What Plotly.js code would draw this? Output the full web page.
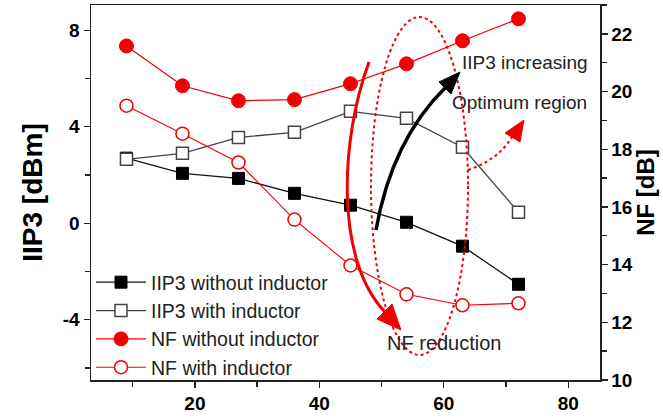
<!DOCTYPE html>
<html>
<head>
<meta charset="utf-8">
<script src="https://cdn.plot.ly/plotly-3.0.1.min.js"></script>
<style>html,body{margin:0;padding:0;background:#fff;}#chart{width:663px;height:419px;}</style>
</head>
<body>
<div id="chart"></div>
<script>
// ---- data ----
var xValues = [9, 18, 27, 36, 45, 54, 63, 72];
var iip3Without = [2.7, 2.07, 1.86, 1.24, 0.75, 0.04, -0.95, -2.53];
var iip3With = [2.65, 2.90, 3.56, 3.77, 4.64, 4.35, 3.15, 0.46];
var nfWithout = [21.58, 20.20, 19.68, 19.72, 20.27, 20.96, 21.76, 22.52];
var nfWith = [19.51, 18.54, 17.54, 15.56, 13.97, 12.97, 12.59, 12.66];
var seriesNames = ["IIP3 without inductor", "IIP3 with inductor", "NF without inductor", "NF with inductor"];
var leftTickVals = [-4, 0, 4, 8];
var leftTickText = ["-4", "0", "4", "8"];

// ---- layout geometry ----
var W = 663, H = 419;
var M = {l: 91, r: 63, t: 5, b: 39};
var PW = W - M.l - M.r, PH = H - M.t - M.b;
function px(x) { return ((x - M.l) / PW).toFixed(4); }
function py(y) { return ((H - M.b - y) / PH).toFixed(4); }
function P(x, y) { return px(x) + "," + py(y); }

var RED = "rgb(240,0,0)";
var font = "Arial, 'Liberation Sans', Helvetica, sans-serif";

var traces = [
  {x: xValues, y: iip3Without, name: seriesNames[0], type: "scatter", mode: "lines+markers",
   line: {color: "#111", width: 1.3},
   marker: {symbol: "square", size: 12, color: "#000", line: {color: "#000", width: 1}}},
  {x: xValues, y: iip3With, name: seriesNames[1], type: "scatter", mode: "lines+markers",
   line: {color: "#444", width: 1.3},
   marker: {symbol: "square", size: 12, color: "#fff", line: {color: "#444", width: 1.5}}},
  {x: xValues, y: nfWithout, name: seriesNames[2], type: "scatter", mode: "lines+markers", yaxis: "y2",
   line: {color: RED, width: 1.3},
   marker: {symbol: "circle", size: 14, color: RED, line: {color: RED, width: 1}}},
  {x: xValues, y: nfWith, name: seriesNames[3], type: "scatter", mode: "lines+markers", yaxis: "y2",
   line: {color: RED, width: 1.1},
   marker: {symbol: "circle", size: 13, color: "#fff", line: {color: RED, width: 1.5}}}
];

var shapes = [
  // dotted ellipse (optimum region)
  {type: "circle", xref: "paper", yref: "paper", x0: px(371), x1: px(468), y0: py(355), y1: py(17),
   line: {color: RED, width: 2, dash: "dot"}, layer: "above"},
  // black arrow (IIP3 increasing)
  {type: "path", xref: "paper", yref: "paper", path: "M" + P(376, 230) + " Q" + P(392, 140) + " " + P(445, 88),
   line: {color: "#000", width: 3.5}},
  {type: "path", xref: "paper", yref: "paper", path: "M" + P(460, 72) + " L" + P(451, 94) + " L" + P(439, 82) + " Z",
   fillcolor: "#000", line: {color: "#000", width: 1}},
  // red thick arrow (NF reduction)
  {type: "path", xref: "paper", yref: "paper", path: "M" + P(369, 62) + " C" + P(340, 140) + " " + P(335, 260) + " " + P(385, 312),
   line: {color: RED, width: 3}},
  {type: "path", xref: "paper", yref: "paper", path: "M" + P(401, 330) + " L" + P(377, 319) + " L" + P(392, 304) + " Z",
   fillcolor: RED, line: {color: RED, width: 1}},
  // red dotted arrow (optimum region)
  {type: "path", xref: "paper", yref: "paper", path: "M" + P(468, 170) + " Q" + P(498, 160) + " " + P(512, 137),
   line: {color: RED, width: 2, dash: "dot"}},
  {type: "path", xref: "paper", yref: "paper", path: "M" + P(524, 120) + " L" + P(520, 142) + " L" + P(505, 133) + " Z",
   fillcolor: RED, line: {color: RED, width: 1}}
];

var annFont = {family: font, size: 19, color: "#222"};
var annotations = [
  {xref: "paper", yref: "paper", x: px(460), y: py(62), xanchor: "left", yanchor: "middle", text: "IIP3 increasing", showarrow: false, font: annFont},
  {xref: "paper", yref: "paper", x: px(450), y: py(103), xanchor: "left", yanchor: "middle", text: "Optimum region", showarrow: false, font: annFont},
  {xref: "paper", yref: "paper", x: px(385), y: py(343), xanchor: "left", yanchor: "middle", text: "NF reduction", showarrow: false, font: {family: font, size: 20, color: "#222"}}
];

var tickFont = {family: font, size: 19, color: "#000", weight: "bold"};
var axisLine = {showline: true, linecolor: "#222", linewidth: 1.5, zeroline: false, showgrid: false,
  ticks: "outside", ticklen: 6, tickwidth: 1.3, tickcolor: "#222", tickfont: tickFont};

var layout = {
  width: W, height: H,
  margin: M,
  paper_bgcolor: "#fff", plot_bgcolor: "#fff",
  showlegend: true,
  legend: {x: 0.0, y: 0.312, xanchor: "left", yanchor: "top", bgcolor: "rgba(0,0,0,0)",
    font: {family: font, size: 19.5, color: "#222"}, itemwidth: 50, tracegroupgap: 0},
  xaxis: Object.assign({}, axisLine, {range: [3.3, 85.1], tick0: 0, dtick: 20, mirror: true,
    minor: {dtick: 10, tick0: 0, ticks: "outside", ticklen: 5, tickcolor: "#222"}}),
  yaxis: Object.assign({}, axisLine, {range: [-6.5, 9.05], tickmode: "array", tickvals: leftTickVals, ticktext: leftTickText,
    minor: {dtick: 2, tick0: 0, ticks: "outside", ticklen: 5, tickcolor: "#222"},
    title: {text: "IIP3 [dBm]", font: {family: font, size: 28, color: "#000", weight: "bold"}, standoff: 12}}),
  yaxis2: Object.assign({}, axisLine, {range: [10, 23], overlaying: "y", side: "right", tick0: 10, dtick: 2,
    minor: {dtick: 1, tick0: 0, ticks: "outside", ticklen: 5, tickcolor: "#222"},
    title: {text: "NF [dB]", font: {family: font, size: 24, color: "#000", weight: "bold"}, standoff: 2}}),
  shapes: shapes,
  annotations: annotations
};

Plotly.newPlot("chart", traces, layout, {displayModeBar: false, staticPlot: true});
</script>
</body>
</html>
